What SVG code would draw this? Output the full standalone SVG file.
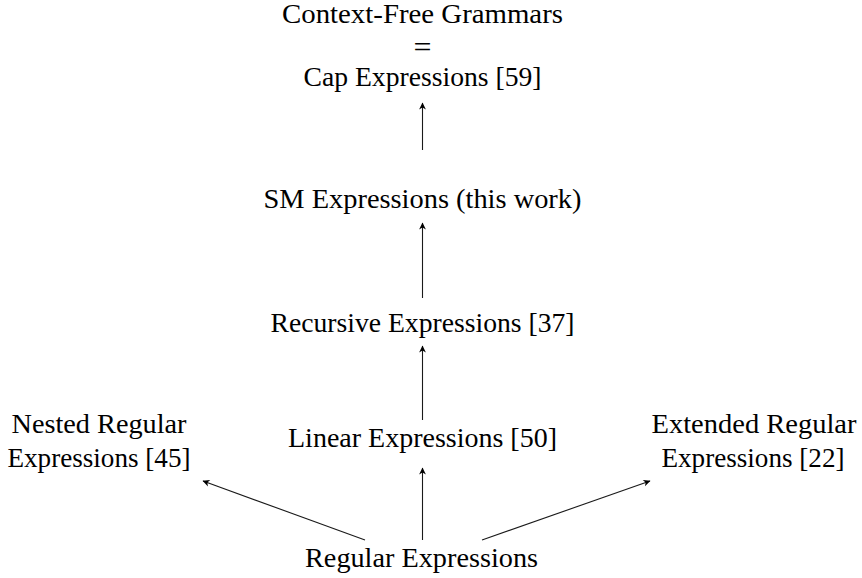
<svg xmlns="http://www.w3.org/2000/svg" width="862" height="578" viewBox="0 0 862 578">
  <style>
    text { font-family: "Liberation Serif", "DejaVu Serif", serif; font-size: 26.5px; fill: #000; text-anchor: middle; }
    .eq { font-size: 30px; }
    .edge { stroke: #1a1a1a; stroke-width: 1.1; fill: none; marker-end: url(#arrow); }
  </style>
  <defs>
    <marker id="arrow" viewBox="-8 -5 9 10" refX="0" refY="0" markerWidth="9" markerHeight="10" markerUnits="userSpaceOnUse" orient="auto">
      <path d="M0.5,0 L-6.5,-3.4 L-4.6,0 L-6.5,3.4 Z" fill="#000"/>
    </marker>
  </defs>
  <rect width="862" height="578" fill="#fff"/>

  <g id="cfg-cap">
    <text x="422.5" y="23" textLength="281" lengthAdjust="spacingAndGlyphs">Context-Free Grammars</text>
    <text class="eq" x="422.5" y="57" textLength="18" lengthAdjust="spacingAndGlyphs">=</text>
    <text x="422.5" y="86" textLength="238" lengthAdjust="spacingAndGlyphs">Cap Expressions [59]</text>
  </g>
  <g id="sm">
    <text x="422.5" y="208" textLength="318" lengthAdjust="spacingAndGlyphs">SM Expressions (this work)</text>
  </g>
  <g id="recursive">
    <text x="422.5" y="332" textLength="304" lengthAdjust="spacingAndGlyphs">Recursive Expressions [37]</text>
  </g>
  <g id="linear">
    <text x="422.5" y="447" textLength="269" lengthAdjust="spacingAndGlyphs">Linear Expressions [50]</text>
  </g>
  <g id="nested">
    <text x="99" y="433" textLength="175" lengthAdjust="spacingAndGlyphs">Nested Regular</text>
    <text x="99" y="467" textLength="183" lengthAdjust="spacingAndGlyphs">Expressions [45]</text>
  </g>
  <g id="extended">
    <text x="754" y="433" textLength="205" lengthAdjust="spacingAndGlyphs">Extended Regular</text>
    <text x="753" y="467" textLength="183" lengthAdjust="spacingAndGlyphs">Expressions [22]</text>
  </g>
  <g id="regular">
    <text x="421.5" y="567" textLength="233" lengthAdjust="spacingAndGlyphs">Regular Expressions</text>
  </g>

  <g id="connectors">
    <line class="edge" x1="422.5" y1="150" x2="422.5" y2="103"/>
    <line class="edge" x1="422.5" y1="298" x2="422.5" y2="223"/>
    <line class="edge" x1="422.5" y1="420" x2="422.5" y2="346"/>
    <line class="edge" x1="422.5" y1="540" x2="422.5" y2="468"/>
    <line class="edge" x1="365" y1="540" x2="203" y2="481"/>
    <line class="edge" x1="482" y1="540" x2="650" y2="481"/>
  </g>
</svg>
